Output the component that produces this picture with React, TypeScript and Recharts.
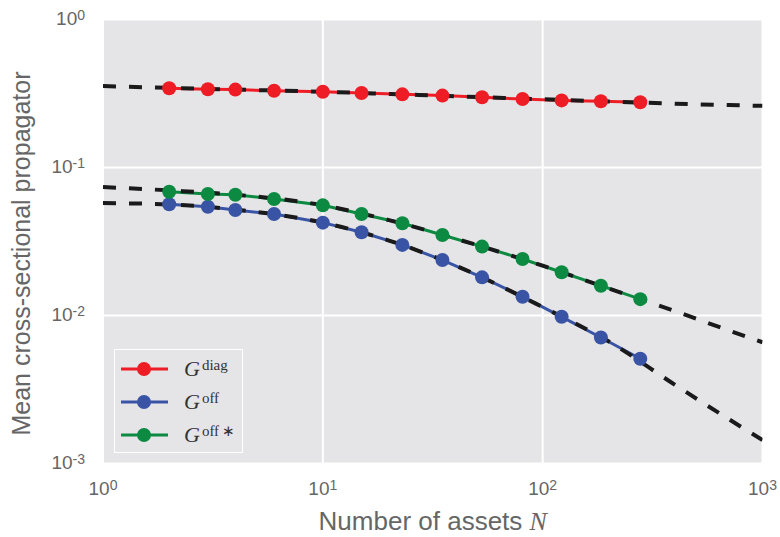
import { LineChart, Line, XAxis, YAxis, CartesianGrid, Legend } from "recharts"

// measured points
const assetCounts = [2, 3, 4, 6, 10, 15, 23, 35, 53, 81, 122, 184, 278]
const diagValues = [0.343, 0.338, 0.336, 0.33, 0.325, 0.319, 0.312, 0.306, 0.298, 0.29, 0.284, 0.28, 0.276]
const offValues = [0.0564, 0.0543, 0.0516, 0.0485, 0.0424, 0.0365, 0.03, 0.0237, 0.0181, 0.0134, 0.0098, 0.0071, 0.0051]
const offStarValues = [0.0686, 0.0662, 0.0655, 0.0613, 0.0555, 0.0485, 0.042, 0.035, 0.0292, 0.0241, 0.0196, 0.0159, 0.0129]

// fitted curves (dashed)
const fitCounts = [1, 2, 4, 10, 20, 40, 100, 200, 400, 700, 1000]
const diagFit = [0.355, 0.345, 0.336, 0.325, 0.314, 0.303, 0.289, 0.279, 0.27, 0.264, 0.261]
const offFit = [0.0575, 0.0563, 0.052, 0.0424, 0.0321, 0.0218, 0.0114, 0.00667, 0.0034, 0.002, 0.00144]
const offStarFit = [0.0738, 0.07, 0.0655, 0.0556, 0.0441, 0.0331, 0.0217, 0.0152, 0.0107, 0.00794, 0.00659]

const xTicks = [1, 10, 100, 1000]
const yTicks = [0.001, 0.01, 0.1, 1]

const seriesNames = ["diag", "off", "off\u2009\u2217"]
const seriesColors = ["#EE1D25", "#3A54A5", "#0C8A42"]

const pointData = assetCounts.map((n, i) => ({
  n,
  diag: diagValues[i],
  off: offValues[i],
  offStar: offStarValues[i],
}))

const fitData = fitCounts.map((n, i) => ({
  n,
  diagFit: diagFit[i],
  offFit: offFit[i],
  offStarFit: offStarFit[i],
}))

const textColor = "#666"
const sans = "'Liberation Sans', Arial, sans-serif"
const serif = "'Liberation Serif', 'Times New Roman', serif"

function PowerTick(props: any) {
  const { x, y, payload, side } = props
  const exp = Math.round(Math.log10(payload.value))
  const isY = side === "y"
  return (
    <text
      x={isY ? x - 18 : x}
      y={isY ? y + 5 : y + 31.5}
      textAnchor={isY ? "end" : "middle"}
      fill={textColor}
      fontSize={19}
      fontFamily={sans}
    >
      10
      <tspan dy={-5} fontSize={14}>
        {exp}
      </tspan>
    </text>
  )
}

function YTitle(props: any) {
  const { viewBox } = props
  const cx = viewBox.x + 30
  const cy = viewBox.y + viewBox.height / 2 + 12
  return (
    <text
      x={cx}
      y={cy}
      transform={`rotate(-90, ${cx}, ${cy})`}
      textAnchor="middle"
      fill={textColor}
      fontSize={25}
      fontFamily={sans}
    >
      Mean cross-sectional propagator
    </text>
  )
}

function XTitle(props: any) {
  const { viewBox } = props
  return (
    <text
      x={viewBox.x + viewBox.width / 2}
      y={viewBox.y + 66}
      textAnchor="middle"
      fill={textColor}
      fontSize={26}
      fontFamily={sans}
    >
      Number of assets{" "}
      <tspan fontFamily={serif} fontStyle="italic">
        N
      </tspan>
    </text>
  )
}

function LegendBox({ payload }: any) {
  const items = (payload || []).filter((p: any) => p.type !== "none")
  return (
    <div
      style={{
        border: "1.5px solid #fff",
        background: "#E5E5E7",
        width: 129,
        height: 104,
        boxSizing: "border-box",
        paddingTop: 2,
      }}
    >
      {items.map((item: any) => (
        <div key={item.value} style={{ display: "flex", alignItems: "center", height: 33 }}>
          <svg width={47} height={16} style={{ marginLeft: 6 }}>
            <line x1={0} y1={8} x2={47} y2={8} stroke={item.color} strokeWidth={3} />
            <circle cx={23} cy={8} r={7} fill={item.color} />
          </svg>
          <span
            style={{
              marginLeft: 16,
              fontFamily: serif,
              fontSize: 22,
              color: "#333",
              lineHeight: 1,
            }}
          >
            <i>G</i>
            <sup style={{ fontSize: 15, marginLeft: 2, verticalAlign: 6 }}>{item.value}</sup>
          </span>
        </div>
      ))}
    </div>
  )
}

export default function App() {
  const keys = ["diag", "off", "offStar"]
  const fitKeys = ["diagFit", "offFit", "offStarFit"]
  return (
    <div style={{ position: "absolute", left: 0, top: 0, width: 780, height: 537, background: "#fff" }}>
      <LineChart width={780} height={537} margin={{ top: 19.5, right: 17.5, left: 0, bottom: 0 }}>
        <CartesianGrid fill="#E5E5E7" stroke="#fff" strokeWidth={2} />
        <XAxis
          type="number"
          dataKey="n"
          scale="log"
          domain={[1, 1000]}
          ticks={xTicks}
          allowDataOverflow
          axisLine={false}
          tickLine={false}
          tickSize={0}
          tickMargin={0}
          interval={0}
          height={73.5}
          tick={<PowerTick side="x" />}
          label={<XTitle />}
        />
        <YAxis
          type="number"
          scale="log"
          domain={[0.001, 1]}
          ticks={yTicks}
          allowDataOverflow
          axisLine={false}
          tickLine={false}
          tickSize={0}
          tickMargin={0}
          interval={0}
          width={103}
          tick={<PowerTick side="y" />}
          label={<YTitle />}
        />
        <Legend
          layout="vertical"
          align="center"
          verticalAlign="middle"
          content={<LegendBox />}
          wrapperStyle={{ left: 114, top: 349, width: 129, height: 104 }}
        />
        {keys.map((k, i) => (
          <Line
            key={k}
            data={pointData}
            dataKey={k}
            name={seriesNames[i]}
            type="linear"
            stroke={seriesColors[i]}
            strokeWidth={3}
            dot={{ r: 7, fill: seriesColors[i], stroke: seriesColors[i], strokeWidth: 0 }}
            activeDot={false}
            isAnimationActive={false}
          />
        ))}
        {fitKeys.map((k) => (
          <Line
            key={k}
            data={fitData}
            dataKey={k}
            type="monotone"
            stroke="#1a1a1a"
            strokeWidth={4}
            strokeDasharray="13 13"
            dot={false}
            activeDot={false}
            legendType="none"
            isAnimationActive={false}
          />
        ))}
      </LineChart>
    </div>
  )
}
